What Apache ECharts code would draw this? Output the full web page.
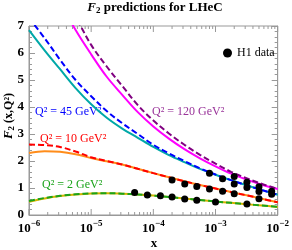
<!DOCTYPE html>
<html><head><meta charset="utf-8">
<script src="https://cdn.jsdelivr.net/npm/echarts@6/dist/echarts.min.js"></script>
<style>html,body{margin:0;padding:0;background:#fff}#c{width:292px;height:250px}</style>
</head><body><div id="c"></div>
<script>
// x sample positions (quarter decades)
const xs = [1e-6, 1.78e-6, 3.16e-6, 5.62e-6, 1e-5, 1.78e-5, 3.16e-5, 5.62e-5, 1e-4, 1.78e-4, 3.16e-4, 5.62e-4, 1e-3, 1.78e-3, 3.16e-3, 5.62e-3, 1e-2];
// model curves (F2 at xs)
const q2_dash   = [0.52, 0.63, 0.71, 0.77, 0.80, 0.81, 0.79, 0.76, 0.72, 0.67, 0.61, 0.555, 0.50, 0.45, 0.40, 0.35, 0.30];
const q2_solid  = [0.49, 0.61, 0.70, 0.76, 0.80, 0.81, 0.79, 0.76, 0.72, 0.67, 0.61, 0.555, 0.50, 0.45, 0.40, 0.35, 0.30];
const q10_dash  = [2.61, 2.59, 2.52, 2.35, 2.14, 2.00, 1.87, 1.71, 1.55, 1.40, 1.25, 1.11, 0.98, 0.85, 0.73, 0.60, 0.47];
const q10_solid = [2.30, 2.36, 2.34, 2.25, 2.11, 1.99, 1.87, 1.71, 1.55, 1.40, 1.25, 1.11, 0.98, 0.85, 0.73, 0.60, 0.47];
const q45_dash  = [7.30, 6.55, 5.75, 5.00, 4.40, 3.85, 3.40, 3.00, 2.60, 2.28, 2.00, 1.73, 1.50, 1.29, 1.10, 0.92, 0.75];
const q45_solid = [6.85, 6.10, 5.40, 4.70, 4.10, 3.60, 3.20, 2.86, 2.52, 2.22, 1.96, 1.71, 1.49, 1.29, 1.10, 0.92, 0.75];
const q120_dash = [10.8, 9.60, 8.40, 7.35, 6.30, 5.50, 4.78, 4.07, 3.50, 3.02, 2.60, 2.23, 1.90, 1.60, 1.36, 1.15, 0.97];
const q120_solid= [10.2, 9.00, 7.90, 6.85, 5.95, 5.12, 4.45, 3.81, 3.28, 2.83, 2.44, 2.10, 1.80, 1.53, 1.31, 1.12, 0.96];
// H1 data
const h1_q2   = [[5e-5,0.83],[8e-5,0.745],[1.3e-4,0.71],[2e-4,0.67],[3.2e-4,0.59],[5e-4,0.55],[1e-3,0.48],[3.2e-3,0.41]];
const h1_q10  = [[2e-4,1.30],[3.2e-4,1.15],[5e-4,1.06],[8e-4,0.96],[1.3e-3,0.88],[2e-3,0.79],[5e-3,0.60]];
const h1_q45  = [[8e-4,1.55],[1.3e-3,1.34],[2e-3,1.15],[3.2e-3,1.02],[5e-3,0.87],[8e-3,0.77]];
const h1_q120 = [[2e-3,1.43],[3.2e-3,1.21],[5e-3,1.05],[8e-3,0.88]];
// axis ticks
const xMajor = [1e-6, 1e-5, 1e-4, 1e-3, 1e-2];
const yTicks = [0,1,2,3,4,5,6,7];

const minorX = [];
for (let d = -6; d < -2; d++) for (let m = 2; m <= 9; m++) minorX.push([m * Math.pow(10, d), 0, 0]);
xMajor.forEach(v => minorX.push([v, 0, 1]));

const SERIF = '"Liberation Serif","DejaVu Serif",serif';
const pair = arr => arr.map((v, i) => [xs[i], v]);
function curve(name, data, color, dashed, z) {
  return { name, type: 'line', data: pair(data), smooth: 0.35, symbol: 'none', clip: true, z,
    lineStyle: { color, width: 2, type: dashed ? [6, 3] : 'solid' }, silent: true };
}
function dots(data) {
  return { name: 'H1 data', type: 'scatter', data, symbol: 'circle', symbolSize: 7, z: 10,
    itemStyle: { color: '#000', opacity: 1 } };
}

const chart = echarts.init(document.getElementById('c'), null, { renderer: 'canvas' });
chart.setOption({
  animation: false,
  backgroundColor: '#fff',
  grid: { left: 29, right: 10, top: 26, bottom: 35, show: true, borderColor: '#999', borderWidth: 1 },
  xAxis: { type: 'log', logBase: 10, min: 1e-6, max: 1e-2, splitNumber: 4,
    axisLine: { lineStyle: { color: '#999' } },
    axisTick: { show: false },
    splitLine: { show: false },
    axisLabel: { margin: 4, color: '#000',
      formatter: v => { const e = Math.round(Math.log10(v)); return '{b|10}{s|\u2212' + (-e) + '}'; },
      rich: { b: { fontFamily: SERIF, fontWeight: 'bold', fontSize: 13, lineHeight: 16, verticalAlign: 'bottom' },
              s: { fontFamily: SERIF, fontWeight: 'bold', fontSize: 9, lineHeight: 10, verticalAlign: 'top' } } } },
  yAxis: [
    { type: 'value', min: 0, max: 7, interval: 1,
      axisLine: { show: true, lineStyle: { color: '#999' } },
      axisTick: { show: true, inside: true, length: 6, lineStyle: { color: '#999' } },
      minorTick: { show: true, splitNumber: 5, length: 3, lineStyle: { color: '#999' } },
      splitLine: { show: false },
      axisLabel: { margin: 5, color: '#000', fontFamily: SERIF, fontWeight: 'bold', fontSize: 13 } },
    { type: 'value', min: 0, max: 7, interval: 1, position: 'right',
      axisLine: { show: true, lineStyle: { color: '#999' } },
      axisTick: { show: true, inside: true, length: 6, lineStyle: { color: '#999' } },
      minorTick: { show: true, splitNumber: 5, length: 3, lineStyle: { color: '#999' } },
      splitLine: { show: false }, axisLabel: { show: false } }
  ],
  legend: { data: ['H1 data'], left: 218, top: 42, itemWidth: 9, itemHeight: 9, icon: 'circle',
    itemStyle: { color: '#000', opacity: 1 },
    textStyle: { fontFamily: SERIF, fontSize: 12, color: '#000' } },
  series: [
    { type: 'custom', silent: true, clip: false, z: 1, data: minorX, encode: { x: 0, y: 1 },
      renderItem: (params, api) => {
        const v = api.value(0), major = api.value(2);
        const b = api.coord([v, 0]), t = api.coord([v, 7]);
        const L = major ? 6 : 3;
        return { type: 'group', children: [
          { type: 'line', shape: { x1: b[0], y1: b[1], x2: b[0], y2: b[1] - L }, style: { stroke: '#999', lineWidth: 1 } },
          { type: 'line', shape: { x1: t[0], y1: t[1], x2: t[0], y2: t[1] + L }, style: { stroke: '#999', lineWidth: 1 } }
        ] };
      } },
    curve('Q2=2 solid', q2_solid, '#d4b400', false, 3),
    curve('Q2=10 solid', q10_solid, '#ff8c1a', false, 3),
    curve('Q2=45 solid', q45_solid, '#00a8a8', false, 3),
    curve('Q2=120 solid', q120_solid, '#ff00ff', false, 3),
    curve('Q2=2 dashed', q2_dash, '#1aa31a', true, 4),
    curve('Q2=10 dashed', q10_dash, '#ff0000', true, 4),
    curve('Q2=45 dashed', q45_dash, '#0000ff', true, 4),
    curve('Q2=120 dashed', q120_dash, '#800080', true, 4),
    dots(h1_q2), dots(h1_q10), dots(h1_q45), dots(h1_q120)
  ],
  graphic: [
    { type: 'text', x: 155, y: 8, style: { text: '{f|F}{s|2}{t| predictions for LHeC}', align: 'center', verticalAlign: 'middle',
      rich: { f: { fontFamily: SERIF, fontStyle: 'italic', fontWeight: 'bold', fontSize: 13 },
              s: { fontFamily: SERIF, fontWeight: 'bold', fontSize: 9, verticalAlign: 'bottom', padding: [6, 0, 0, 0] },
              t: { fontFamily: SERIF, fontWeight: 'bold', fontSize: 13 } } } },
    { type: 'text', x: 9, y: 116, rotation: Math.PI / 2, style: { text: '{f|F}{s|2}{t| (x,Q²)}', align: 'center', verticalAlign: 'middle',
      rich: { f: { fontFamily: SERIF, fontStyle: 'italic', fontWeight: 'bold', fontSize: 13 },
              s: { fontFamily: SERIF, fontWeight: 'bold', fontSize: 9, verticalAlign: 'bottom', padding: [6, 0, 0, 0] },
              t: { fontFamily: SERIF, fontWeight: 'bold', fontSize: 12 } } } },
    { type: 'text', x: 154, y: 244, style: { text: 'x', align: 'center', verticalAlign: 'middle', fontFamily: SERIF, fontWeight: 'bold', fontSize: 13, fill: '#000' } },
    { type: 'text', x: 152, y: 112, style: { text: 'Q² = 120 GeV²', verticalAlign: 'middle', fontFamily: SERIF, fontSize: 12, fill: '#993399' } },
    { type: 'text', x: 35, y: 112, style: { text: 'Q² = 45 GeV²', verticalAlign: 'middle', fontFamily: SERIF, fontSize: 12, fill: '#0000ff' } },
    { type: 'text', x: 40, y: 139, style: { text: 'Q² = 10 GeV²', verticalAlign: 'middle', fontFamily: SERIF, fontSize: 12, fill: '#ff0000' } },
    { type: 'text', x: 42, y: 185, style: { text: 'Q² = 2 GeV²', verticalAlign: 'middle', fontFamily: SERIF, fontSize: 12, fill: '#1aa31a' } }
  ]
});
</script>
</body></html>
